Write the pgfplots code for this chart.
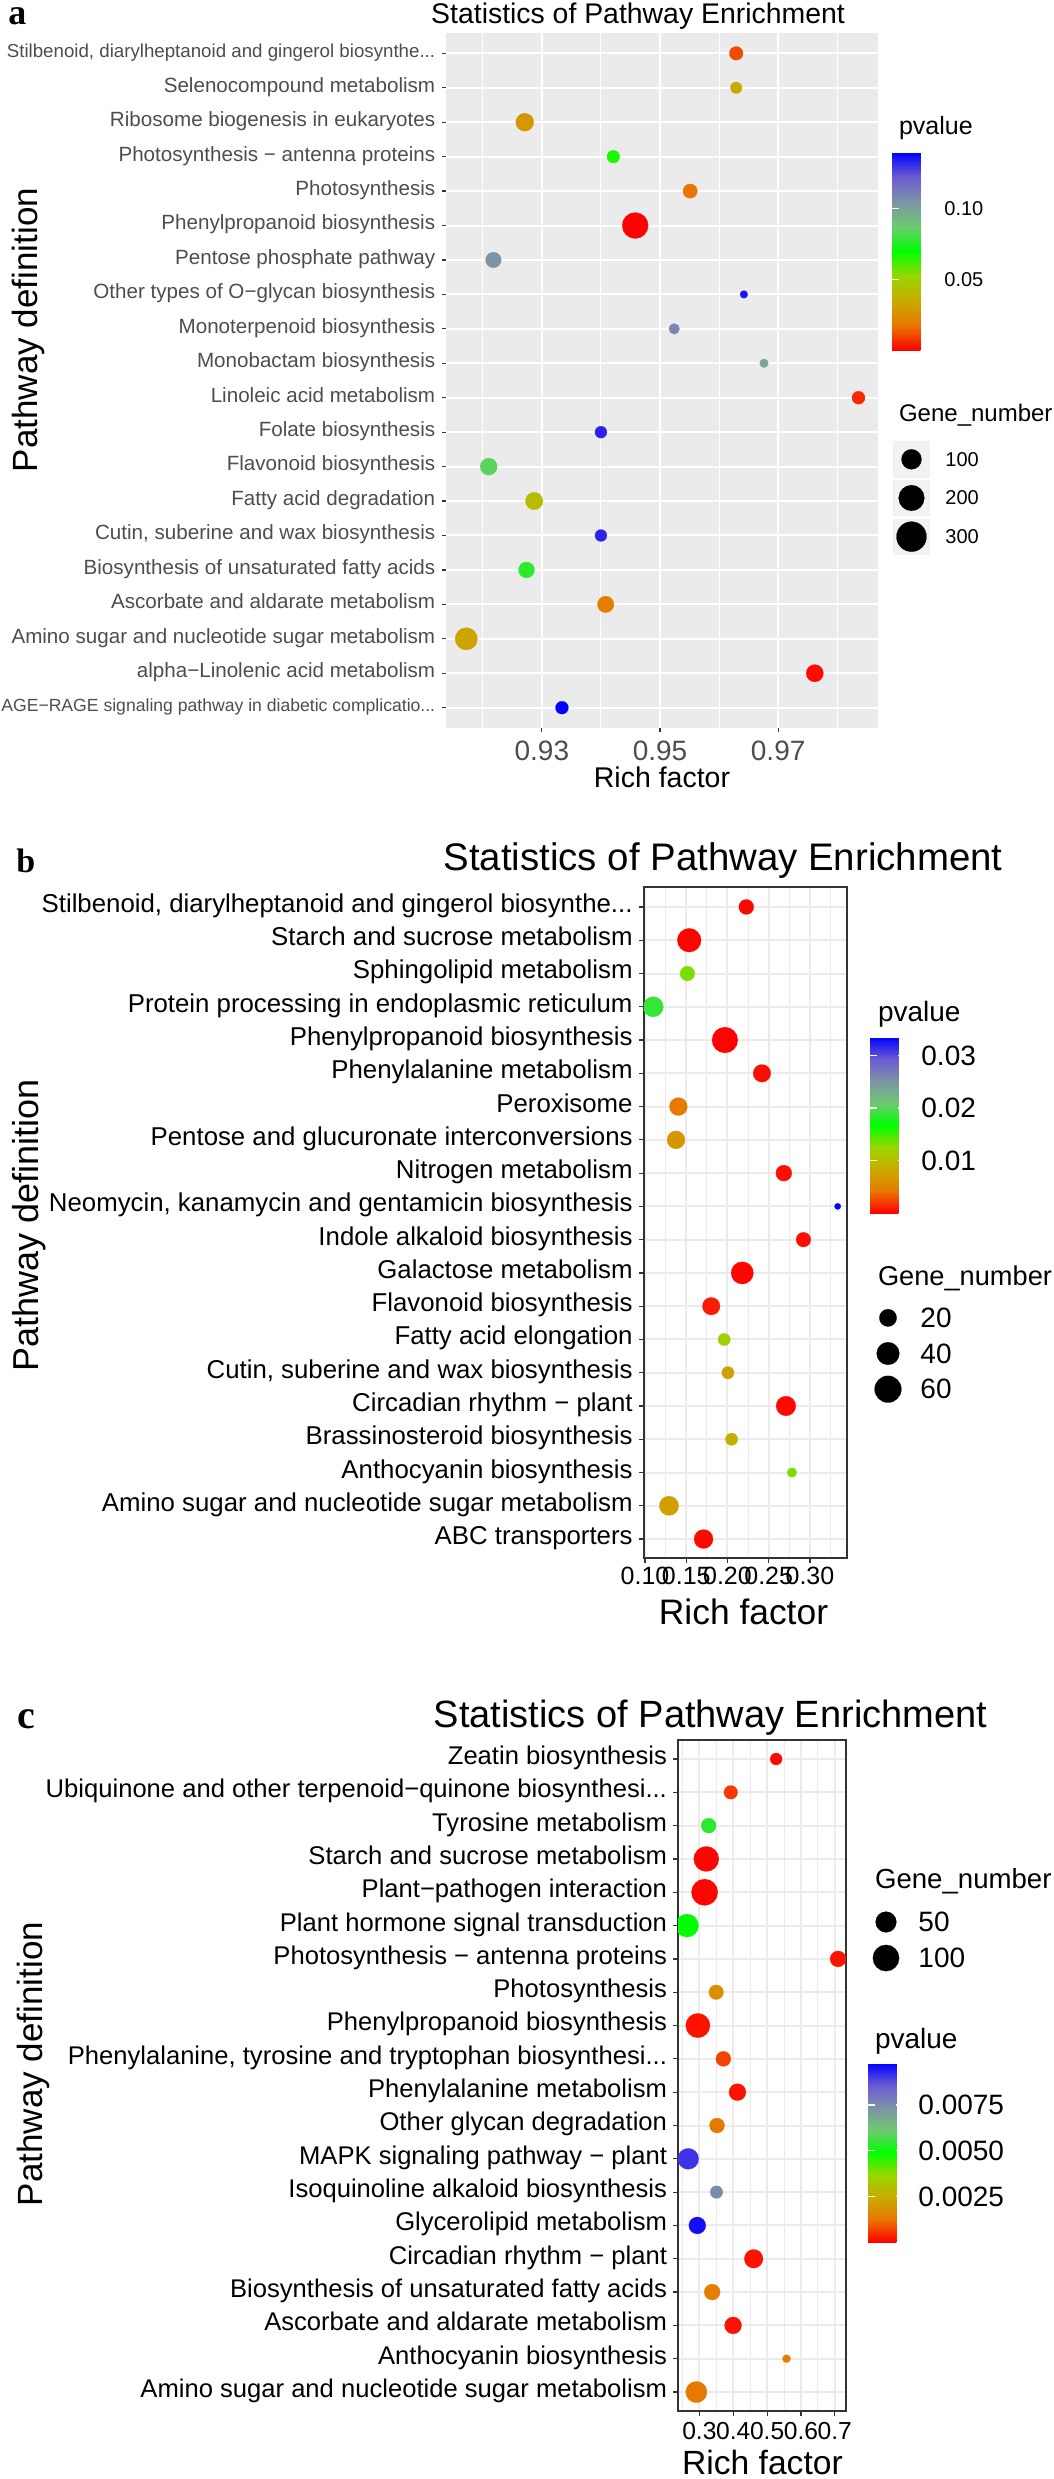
\documentclass[border=0pt]{standalone}
\usepackage{fontspec}
\setmainfont{Liberation Sans}
\newfontfamily\lserif{Liberation Serif}
\usepackage{pgfplots}
\usepackage{pgfplotstable}
\pgfplotsset{compat=1.18}
\newcommand\fs[1]{\fontsize{#1}{#1}\selectfont}
\newcommand\el{.\kern0pt.\kern0pt.}
\definecolor{ggbg}{HTML}{EBEBEB}
\definecolor{grey20}{HTML}{333333}
\definecolor{grey30}{HTML}{4D4D4D}
\definecolor{grey95}{HTML}{F2F2F2}
\pgfplotsset{colormap={gg}{rgb255=(255,0,0) rgb255=(232,119,0) rgb255=(201,171,0) rgb255=(152,215,0) rgb255=(0,255,0) rgb255=(111,201,114) rgb255=(125,147,166) rgb255=(108,91,211) rgb255=(0,0,255)}}
\pgfplotsset{
  kegg/.style={scale only axis, anchor=north west, ytick={1,2,3,4,5,6,7,8,9,10,11,12,13,14,15,16,17,18,19,20},
    tick align=outside, tick pos=left, minor tick length=0pt,
    typeset ticklabels with strut, colormap name=gg, clip marker paths=true,
    colorbar shift/.style={}},
  cbar/.style={at={(parent axis.north east)}, anchor=north west, scale only axis,
    tick align=inside, ytick pos=both, yticklabel pos=right, xtick=\empty,
    scaled y ticks=false,
    major tick length=3.5pt, minor tick length=0pt, tick style={white, line width=0.6pt},
    axis line style={draw=none}, axis background/.style={},
    xmajorgrids=false, ymajorgrids=false, xminorgrids=false},
  dots/.style={scatter, only marks, mark=*, point meta=explicit,
    scatter/use mapped color={draw=mapped color, fill=mapped color},
    mark options={line width=0.1pt},
    visualization depends on={(#1)/4 \as \msize},
    scatter/@pre marker code/.append style={/tikz/mark size=\msize pt}},
  keys/.style={scatter, only marks, mark=*, point meta=explicit,
    scatter/use mapped color={draw=black, fill=black},
    mark options={line width=0.1pt},
    visualization depends on={(#1)/4 \as \msize},
    scatter/@pre marker code/.append style={/tikz/mark size=\msize pt}},
}
% Panel a: y x pvalue gene_number
\pgfplotstableread{
y x p n
20 0.9629 0.011 29
19 0.9629 0.034 15
18 0.9271 0.028 72
17 0.9421 0.067 22
16 0.9551 0.017 34
15 0.9458 0.0001 207
14 0.9218 0.105 46
13 0.9642 0.136 1
12 0.9524 0.109 10
11 0.9676 0.098 3
10 0.9836 0.006 24
9 0.9400 0.133 17
8 0.9210 0.084 61
7 0.9287 0.042 66
6 0.9400 0.133 17
5 0.9274 0.077 50
4 0.9408 0.0196 55
3 0.9172 0.032 137
2 0.9762 0.0014 64
1 0.9334 0.140 23
}\tabA
\pgfplotstableread{
y x p n
20 0.2228 0.0002 13.4
19 0.1536 0.0001 45
18 0.1514 0.0134 12.7
17 0.1100 0.0188 30
16 0.1969 0.0001 55
15 0.2418 0.0005 21
14 0.1405 0.0044 22
13 0.1376 0.0067 22
12 0.2683 0.0005 16
11 0.3336 0.0335 0.4
10 0.2921 0.0005 12.7
9 0.2179 0.0002 38.6
8 0.1803 0.0010 21
7 0.1960 0.0120 7.5
6 0.2005 0.0074 7.5
5 0.2709 0.0003 28
4 0.2050 0.0087 7.5
3 0.2782 0.0134 3.3
2 0.1291 0.0074 26.8
1 0.1710 0.0004 25.6
}\tabB
\pgfplotstableread{
y x p n
20 0.5267 0.0001 6.3
19 0.3926 0.0006 11.6
18 0.3273 0.0054 16.7
17 0.3204 0.00005 87
16 0.3154 0.00005 100
15 0.2635 0.0049 69
14 0.7096 0.0002 21
13 0.3496 0.0018 15.4
12 0.2955 0.0002 80
11 0.3708 0.0007 16.7
10 0.4124 0.0002 26
9 0.3520 0.0013 16.7
8 0.2670 0.0091 52
7 0.3505 0.0075 8.3
6 0.2938 0.0096 26
5 0.4603 0.0002 36
4 0.3377 0.0014 21
3 0.3995 0.0002 26
2 0.5573 0.0014 0.2
1 0.2911 0.0013 54.5
}\tabC
\begin{document}
\begin{tikzpicture}
\path[use as bounding box] (0,0) rectangle (527pt,-1239.5pt);
% ================= Panel a =================
\node[anchor=base west, inner sep=0, font=\fs{18}\lserif\bfseries] at (4pt,-12pt) {a};
\node[anchor=base, font=\fs{14.2}] at (319pt,-11.5pt) {Statistics of Pathway Enrichment};
\node[anchor=base, font=\fs{14.25}] at (331pt,-393.5pt) {Rich factor};
\node[anchor=base, rotate=90, font=\fs{17.5}] at (18.5pt,-165pt) {Pathway definition};
\begin{axis}[kegg,
  at={(223pt,-16.5pt)}, width=216pt, height=347.5pt,
  xmin=0.91377, xmax=0.9869, ymin=0.41, ymax=20.59,
  axis background/.style={fill=ggbg},
  axis line style={draw=none},
  xtick={0.93,0.95,0.97}, xticklabels={0.93,0.95,0.97},
  minor xtick={0.92,0.94,0.96,0.98},
  xmajorgrids, xminorgrids, ymajorgrids,
  major grid style={white, line width=1pt},
  minor grid style={white, line width=0.55pt},
  major tick length=2.2pt,
  tick style={grey20, line width=0.6pt},
  xticklabel style={font=\fs{14}, text=grey30, anchor=north, inner sep=0pt, yshift=-4pt},
  yticklabel style={font=\fs{10.3}, text=grey30, anchor=east, inner sep=0pt, xshift=-3pt},
  yticklabels={{\fs{8.8}AGE−RAGE signaling pathway in diabetic complicatio\el},
    {alpha−Linolenic acid metabolism}, {Amino sugar and nucleotide sugar metabolism},
    {Ascorbate and aldarate metabolism}, {Biosynthesis of unsaturated fatty acids},
    {Cutin, suberine and wax biosynthesis}, {Fatty acid degradation}, {Flavonoid biosynthesis},
    {Folate biosynthesis}, {Linoleic acid metabolism}, {Monobactam biosynthesis},
    {Monoterpenoid biosynthesis}, {Other types of O−glycan biosynthesis}, {Pentose phosphate pathway},
    {Phenylpropanoid biosynthesis}, {Photosynthesis}, {Photosynthesis − antenna proteins},
    {Ribosome biogenesis in eukaryotes}, {Selenocompound metabolism},
    {\fs{9.35}Stilbenoid, diarylheptanoid and gingerol biosynthe\el}},
  point meta min=0, point meta max=0.14,
  colorbar,
  colorbar style={cbar, xshift=7pt, yshift=-59.5pt, width=19.5pt, height=99pt,
    ytick={0.05,0.10}, yticklabels={0.05,0.10},
    yticklabel style={font=\fs{10}, text=black, anchor=west, inner sep=0pt, xshift=6.5pt}},
]
\addplot[dots={6.34+1.366*sqrt(\thisrow{n})}] table[x=x, y=y, meta=p] {\tabA};
\end{axis}
\node[anchor=base west, font=\fs{12.5}] at (446pt,-67pt) {pvalue};
\node[anchor=base west, font=\fs{12}] at (446pt,-210.5pt) {Gene\_number};
\begin{axis}[at={(446.5pt,-220pt)}, anchor=north west, scale only axis, width=18.5pt, height=58pt,
  xmin=0, xmax=1, ymin=0, ymax=3, hide axis, clip=false]
\fill[grey95] (axis cs:0,2.03) rectangle (axis cs:1,2.97);
\fill[grey95] (axis cs:0,1.03) rectangle (axis cs:1,1.97);
\fill[grey95] (axis cs:0,0.03) rectangle (axis cs:1,0.97);
\addplot[keys={6.34+1.366*sqrt(\thisrow{n})}] table[x=x, y=y, meta=n] {
x y n
0.5 2.5 100
0.5 1.5 200
0.5 0.5 300
};
\node[anchor=west, inner sep=0, font=\fs{10}] at (axis cs:1.405,2.5) {100};
\node[anchor=west, inner sep=0, font=\fs{10}] at (axis cs:1.405,1.5) {200};
\node[anchor=west, inner sep=0, font=\fs{10}] at (axis cs:1.405,0.5) {300};
\end{axis}
% ================= Panel b =================
\node[anchor=base west, inner sep=0, font=\fs{17}\lserif\bfseries] at (8pt,-436pt) {b};
\node[anchor=base, font=\fs{19.2}] at (361.5pt,-435pt) {Statistics of Pathway Enrichment};
\node[anchor=base, font=\fs{17.7}] at (371.75pt,-812pt) {Rich factor};
\node[anchor=base, rotate=90, font=\fs{18}] at (19.5pt,-612.5pt) {Pathway definition};
\begin{axis}[kegg,
  at={(322pt,-443.5pt)}, width=101.5pt, height=335.5pt,
  xmin=0.0988, xmax=0.3449, ymin=0.43, ymax=20.6,
  axis line style={grey20, line width=0.6pt},
  xtick={0.10,0.15,0.20,0.25,0.30}, xticklabels={0.10,0.15,0.20,0.25,0.30},
  minor xtick={0.125,0.175,0.225,0.275,0.325},
  xmajorgrids, xminorgrids, ymajorgrids,
  major grid style={ggbg, line width=1pt},
  minor grid style={ggbg, line width=0.5pt},
  major tick length=2.5pt,
  tick style={grey20, line width=0.6pt},
  xticklabel style={font=\fs{12.5}, text=black, anchor=north, inner sep=0pt, yshift=-2pt},
  yticklabel style={font=\fs{12.9}, text=black, anchor=east, inner sep=0pt, xshift=-3pt},
  yticklabels={{ABC transporters}, {Amino sugar and nucleotide sugar metabolism},
    {Anthocyanin biosynthesis}, {Brassinosteroid biosynthesis}, {Circadian rhythm − plant},
    {Cutin, suberine and wax biosynthesis}, {Fatty acid elongation}, {Flavonoid biosynthesis},
    {Galactose metabolism}, {Indole alkaloid biosynthesis},
    {Neomycin, kanamycin and gentamicin biosynthesis}, {Nitrogen metabolism},
    {Pentose and glucuronate interconversions}, {Peroxisome}, {Phenylalanine metabolism},
    {Phenylpropanoid biosynthesis}, {Protein processing in endoplasmic reticulum},
    {Sphingolipid metabolism}, {Starch and sucrose metabolism},
    {Stilbenoid, diarylheptanoid and gingerol biosynthe\el}},
  point meta min=0, point meta max=0.0335,
  colorbar,
  colorbar style={cbar, xshift=11.5pt, yshift=-75pt, width=17.5pt, height=88pt,
    ytick={0.01,0.02,0.03}, yticklabels={0.01,0.02,0.03},
    yticklabel style={font=\fs{14}, text=black, anchor=west, inner sep=0pt, xshift=8pt}},
]
\addplot[dots={4.49+2.866*sqrt(\thisrow{n})}] table[x=x, y=y, meta=p] {\tabB};
\end{axis}
\node[anchor=base west, font=\fs{14}] at (435.5pt,-510.5pt) {pvalue};
\node[anchor=base west, font=\fs{13.6}] at (435.5pt,-642.5pt) {Gene\_number};
\begin{axis}[at={(435pt,-650pt)}, anchor=north west, scale only axis, width=18pt, height=53.5pt,
  xmin=0, xmax=1, ymin=0, ymax=3, hide axis, clip=false]
\addplot[keys={4.49+2.866*sqrt(\thisrow{n})}] table[x=x, y=y, meta=n] {
x y n
0.5 2.5 20
0.5 1.5 40
0.5 0.5 60
};
\node[anchor=west, inner sep=0, font=\fs{14}] at (axis cs:1.39,2.5) {20};
\node[anchor=west, inner sep=0, font=\fs{14}] at (axis cs:1.39,1.5) {40};
\node[anchor=west, inner sep=0, font=\fs{14}] at (axis cs:1.39,0.5) {60};
\end{axis}
% ================= Panel c =================
\node[anchor=base west, inner sep=0, font=\fs{20}\lserif\bfseries] at (8.5pt,-864pt) {c};
\node[anchor=base, font=\fs{19}] at (355.25pt,-863.5pt) {Statistics of Pathway Enrichment};
\node[anchor=base, font=\fs{16.8}] at (381.25pt,-1237pt) {Rich factor};
\node[anchor=base, rotate=90, font=\fs{17.5}] at (21pt,-1032pt) {Pathway definition};
\begin{axis}[kegg,
  at={(339pt,-870pt)}, width=84pt, height=335.5pt,
  xmin=0.2368, xmax=0.733, ymin=0.43, ymax=20.57,
  axis line style={grey20, line width=0.6pt},
  xtick={0.3,0.4,0.5,0.6,0.7}, xticklabels={0.3,0.4,0.5,0.6,0.7},
  minor xtick={0.25,0.35,0.45,0.55,0.65},
  xmajorgrids, xminorgrids, ymajorgrids,
  major grid style={ggbg, line width=1pt},
  minor grid style={ggbg, line width=0.5pt},
  major tick length=2.3pt,
  tick style={grey20, line width=0.6pt},
  xticklabel style={font=\fs{12.3}, text=black, anchor=north, inner sep=0pt, yshift=-3pt},
  yticklabel style={font=\fs{12.8}, text=black, anchor=east, inner sep=0pt, xshift=-3pt},
  yticklabels={{Amino sugar and nucleotide sugar metabolism}, {Anthocyanin biosynthesis},
    {Ascorbate and aldarate metabolism}, {Biosynthesis of unsaturated fatty acids},
    {Circadian rhythm − plant}, {Glycerolipid metabolism}, {Isoquinoline alkaloid biosynthesis},
    {MAPK signaling pathway − plant}, {Other glycan degradation}, {Phenylalanine metabolism},
    {Phenylalanine, tyrosine and tryptophan biosynthesi\el}, {Phenylpropanoid biosynthesis},
    {Photosynthesis}, {Photosynthesis − antenna proteins}, {Plant hormone signal transduction},
    {Plant−pathogen interaction}, {Starch and sucrose metabolism}, {Tyrosine metabolism},
    {Ubiquinone and other terpenoid−quinone biosynthesi\el}, {Zeatin biosynthesis}},
  point meta min=0, point meta max=0.0098,
  colorbar,
  colorbar style={cbar, xshift=11pt, yshift=-161.5pt, width=17.5pt, height=89.5pt,
    ytick={0.0025,0.005,0.0075}, yticklabels={0.0025,0.0050,0.0075},
    yticklabel style={font=\fs{14}, text=black, anchor=west, inner sep=0pt, xshift=7.5pt}},
]
\addplot[dots={7.19+1.911*sqrt(\thisrow{n})}] table[x=x, y=y, meta=p] {\tabC};
\end{axis}
\node[anchor=base west, font=\fs{13.8}] at (434pt,-944pt) {Gene\_number};
\node[anchor=base west, font=\fs{14}] at (434pt,-1024pt) {pvalue};
\begin{axis}[at={(434pt,-952pt)}, anchor=north west, scale only axis, width=18pt, height=36pt,
  xmin=0, xmax=1, ymin=0, ymax=2, hide axis, clip=false]
\addplot[keys={7.19+1.911*sqrt(\thisrow{n})}] table[x=x, y=y, meta=n] {
x y n
0.5 1.5 50
0.5 0.5 100
};
\node[anchor=west, inner sep=0, font=\fs{14}] at (axis cs:1.39,1.5) {50};
\node[anchor=west, inner sep=0, font=\fs{14}] at (axis cs:1.39,0.5) {100};
\end{axis}
\end{tikzpicture}
\end{document}
